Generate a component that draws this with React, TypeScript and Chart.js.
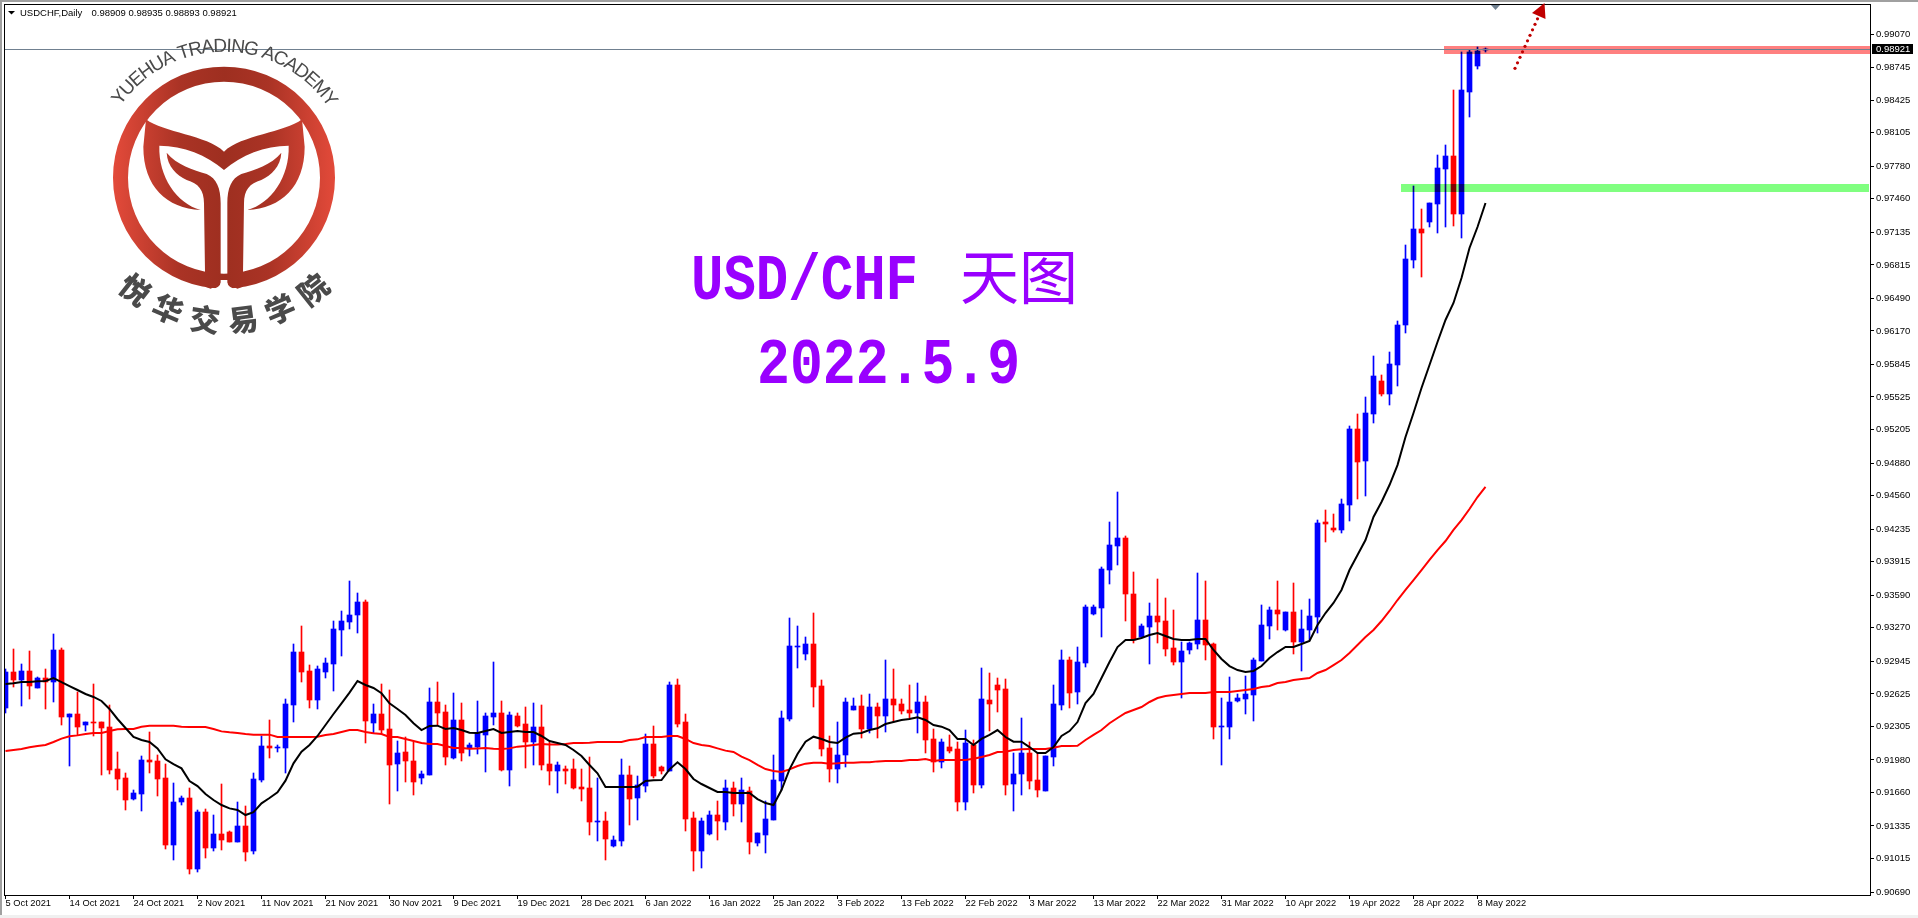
import React, { useEffect, useRef } from "react";
import { Chart, registerables } from "chart.js";

Chart.register(...registerables);

// All prices are in points: 1 point = 0.00001 USD/CHF
const symbolLabel = "USDCHF,Daily";
const ohlcLabel = "0.98909 0.98935 0.98893 0.98921";
const dateLabels = [
  "5 Oct 2021", "14 Oct 2021", "24 Oct 2021", "2 Nov 2021", "11 Nov 2021", "21 Nov 2021", "30 Nov 2021", "9 Dec 2021",
  "19 Dec 2021", "28 Dec 2021", "6 Jan 2022", "16 Jan 2022", "25 Jan 2022", "3 Feb 2022", "13 Feb 2022", "22 Feb 2022",
  "3 Mar 2022", "13 Mar 2022", "22 Mar 2022", "31 Mar 2022", "10 Apr 2022", "19 Apr 2022", "28 Apr 2022", "8 May 2022",
];
const priceTicks = [
  99070, 98745, 98425, 98105, 97780, 97460, 97135, 96815, 96490, 96170, 95845, 95525, 95205, 94880,
  94560, 94235, 93915, 93590, 93270, 92945, 92625, 92305, 91980, 91660, 91335, 91015, 90690,
];

const highs = [
  92865,93064,92917,93044,92790,92868,93210,93073,92429,92644,
  92351,92722,92351,92517,92058,91852,91686,92018,92253,92028,
  91940,91755,91628,91706,91491,91501,91442,91745,91286,91569,
  91530,91852,92214,92370,92126,92575,93112,93288,92907,92898,
  92976,93337,93435,93728,93611,93542,92526,92722,92663,92165,
  92204,92155,91872,92683,92741,92517,92634,92536,92145,92556,
  92439,92937,92556,92448,92439,92497,92536,92517,92155,91960,
  91921,91989,91891,92009,91804,91471,91237,91989,91921,91823,
  92233,92312,91921,92741,92771,92429,91471,91413,91481,91579,
  91784,91765,91804,91716,91266,91579,92028,92458,93366,93288,
  93181,93415,92761,92214,92351,92585,92585,92614,92624,92536,
  92956,92868,92575,92712,92732,92605,92282,92185,92224,92155,
  92272,92175,92878,92829,92780,92771,92048,92390,92155,92048,
  92018,92712,93054,92986,93083,93493,93493,93865,94304,94597,
  94167,93815,93308,93513,93747,93561,93444,93132,93132,93806,
  93728,93122,92585,92790,92624,92800,92975,93493,93474,93728,
  93425,93708,93444,93552,94323,94421,94382,94528,95241,95359,
  95525,95925,95740,95964,96267,97009,97585,97361,97419,97888,
  97986,98523,98894,98914,98943,98935,
];
const lows = [
  92442,92696,92510,92575,92683,92478,92546,92321,91921,92224,
  92263,92214,91833,91843,91686,91491,91589,91481,91852,91628,
  91110,91003,91540,90866,90885,91022,91090,91100,91178,91178,
  90993,91061,91765,91999,92058,91852,92351,92741,92487,92478,
  92780,92653,92995,93259,93220,92145,92243,92233,91550,91677,
  91765,91638,91745,91833,92321,91931,91989,91970,92018,92038,
  91862,92321,91872,91725,92302,91901,91931,91882,91735,91657,
  91745,91696,91579,91247,91188,91003,91130,91139,91344,91393,
  91667,91804,91843,91872,92302,91286,90895,90924,91247,91198,
  91296,91432,91374,91061,91139,91071,91393,91686,92360,92878,
  92956,92497,92018,91765,91755,91911,92468,92194,92243,92194,
  92253,92351,92429,92380,92243,92048,91862,91901,92048,91481,
  91491,91657,91706,92263,92448,91638,91481,91638,91696,91618,
  91677,91921,92468,92487,92526,92888,93396,93181,93698,93884,
  93337,93122,93181,92917,93122,92995,92907,92585,93015,93063,
  92956,92184,91930,92184,92546,92429,92360,92946,93161,93249,
  93239,93015,92849,93151,93220,94108,94206,94196,94313,94528,
  94558,95271,95534,95447,95632,96150,96785,96697,97185,97126,
  97185,97195,97078,98259,98728,98893,
];
const opens = [
  92491,92839,92761,92849,92683,92780,92741,93054,92399,92429,
  92321,92351,92351,92302,91891,91804,91598,91647,91979,91970,
  91804,91149,91569,91608,90915,91471,91120,91257,91276,91178,
  91335,91090,91784,92116,92097,92097,92517,93034,92849,92565,
  92839,92917,93249,93327,93396,93523,92341,92429,92282,91940,
  92058,91970,91804,91833,92546,92448,91999,92370,92097,92106,
  92224,92399,92439,91882,92409,92331,92155,92302,91940,91872,
  91891,91891,91716,91706,91374,91384,91139,91188,91833,91608,
  91725,92136,91911,91872,92712,92351,91413,91090,91257,91442,
  91374,91706,91550,91677,91169,91247,91393,91774,92380,93083,
  93015,93112,92702,92097,91891,92028,92468,92507,92282,92497,
  92409,92575,92526,92468,92439,92546,92185,91960,92106,92087,
  91569,92126,91735,92565,92712,92673,91745,91843,92048,91784,
  91677,92009,92517,92956,92644,92927,93406,93464,93835,94069,
  94148,93601,93181,93278,93386,93337,93073,92936,93054,93112,
  93347,93112,92302,92302,92555,92575,92614,92946,93288,93444,
  93249,93425,93132,93249,93376,94304,94245,94226,94470,95212,
  94900,95359,95681,95554,95837,96228,96863,97165,97234,97410,
  97752,97879,97312,98504,98758,98909,
];
const closes = [
  92839,92761,92849,92702,92780,92741,93054,92399,92429,92302,
  92351,92341,92292,91882,91794,91589,91657,91979,91960,91794,
  91149,91569,91608,90915,91471,91120,91257,91198,91178,91335,
  91081,91794,92116,92097,92106,92526,93034,92839,92565,92868,
  92927,93259,93337,93396,93523,92360,92429,92272,91931,92048,
  91970,91765,91843,92546,92439,92009,92370,92048,92126,92243,
  92409,92439,91882,92419,92312,92155,92302,91931,91872,91931,
  91872,91706,91696,91374,91384,91208,91198,91833,91598,91735,
  92136,91823,91872,92712,92331,91403,91090,91384,91442,91384,
  91706,91550,91686,91178,91266,91403,91784,92390,93093,93093,
  93112,92692,92087,91891,92028,92546,92507,92282,92497,92409,
  92575,92517,92458,92439,92546,92175,91960,92155,92067,91569,
  92145,91735,92575,92526,92663,91735,91843,92048,91774,91686,
  92018,92526,92956,92634,92937,93474,93474,93845,94079,94148,
  93601,93151,93288,93386,93327,93063,92936,93044,93122,93347,
  93102,92302,92311,92546,92585,92624,92956,93298,93444,93405,
  93425,93132,93259,93386,94294,94284,94226,94480,95212,94890,
  95368,95730,95554,95847,96228,96872,97165,97126,97419,97761,
  97879,97312,98523,98894,98904,98921,
];
const fastAverage = [
  92722,92728,92741,92741,92748,92751,92780,92741,92702,92663,
  92624,92595,92556,92478,92380,92292,92204,92175,92155,92093,
  91986,91940,91898,91774,91725,91647,91589,91540,91507,91491,
  91442,91471,91556,91608,91664,91778,91947,92061,92126,92214,
  92321,92429,92533,92637,92751,92712,92683,92631,92533,92478,
  92419,92338,92272,92312,92315,92282,92292,92272,92246,92243,
  92263,92282,92243,92253,92263,92253,92253,92214,92165,92145,
  92126,92077,92018,91931,91849,91716,91716,91716,91716,91719,
  91774,91781,91784,91888,91957,91891,91794,91745,91706,91667,
  91667,91657,91657,91657,91598,91559,91540,91686,91888,92038,
  92158,92207,92185,92155,92145,92198,92237,92243,92272,92289,
  92331,92351,92370,92380,92396,92370,92321,92305,92272,92185,
  92185,92126,92185,92224,92272,92204,92158,92158,92106,92048,
  92048,92106,92214,92262,92350,92536,92624,92780,92936,93083,
  93151,93151,93171,93200,93220,93190,93161,93151,93151,93161,
  93161,93054,92966,92897,92858,92839,92849,92897,92975,93034,
  93083,93083,93112,93142,93298,93415,93513,93640,93835,93981,
  94128,94353,94499,94665,94860,95134,95368,95613,95837,96062,
  96277,96443,96687,96980,97185,97419,
];
const slowAverage = [
  92067,92077,92087,92103,92116,92126,92155,92188,92211,92220,
  92233,92243,92243,92263,92279,92282,92282,92305,92315,92315,
  92315,92315,92305,92302,92302,92302,92282,92259,92250,92243,
  92233,92227,92227,92227,92204,92204,92204,92204,92204,92207,
  92224,92233,92253,92272,92272,92253,92240,92233,92204,92204,
  92185,92165,92145,92136,92136,92116,92097,92097,92090,92093,
  92097,92090,92087,92093,92110,92116,92126,92136,92132,92132,
  92136,92145,92145,92149,92155,92155,92155,92155,92175,92181,
  92204,92204,92204,92214,92214,92185,92145,92126,92116,92093,
  92071,92058,92012,91979,91931,91891,91872,91862,91888,91921,
  91944,91953,91953,91944,91947,91953,91953,91957,91957,91966,
  91970,91970,91970,91979,91979,91989,91970,91979,91979,91979,
  91979,91992,92009,92028,92058,92061,92077,92084,92087,92087,
  92087,92100,92116,92116,92119,92175,92224,92272,92338,92390,
  92439,92468,92497,92546,92585,92605,92614,92624,92634,92634,
  92634,92643,92643,92643,92653,92663,92673,92692,92702,92731,
  92741,92761,92770,92780,92829,92858,92907,92956,93024,93102,
  93181,93249,93337,93435,93542,93640,93737,93835,93933,94030,
  94118,94226,94323,94431,94548,94646,
];
// Drawn zones: [top price, bottom price, first bar]
const resistanceZone = [98953, 98875, 179.8];
const supportZone = [97605, 97527, 174.44];

const UP = "#0000FF";
const DOWN = "#FF0000";
const count = closes.length;
const candleColors = closes.map((c, i) => (c >= opens[i] ? UP : DOWN));

function drawLogo(ctx: CanvasRenderingContext2D) {
  const X = (z: number) => 80 + z / 3;
  const Y = (z: number) => z / 3;
  const cx = X(432);
  const cy = Y(533);
  const grad = ctx.createLinearGradient(X(100), 0, X(766), 0);
  grad.addColorStop(0, "#E34A3A");
  grad.addColorStop(0.3, "#AA3325");
  grad.addColorStop(0.5, "#9E2F20");
  grad.addColorStop(0.7, "#AA3325");
  grad.addColorStop(1, "#E34A3A");
  ctx.save();
  ctx.fillStyle = grad;
  ctx.beginPath();
  ctx.arc(cx, cy, 111, 0, Math.PI * 2);
  ctx.arc(cx, cy, 96, 0, Math.PI * 2);
  ctx.fill("evenodd");

  const half = (m: boolean) => {
    const PX = (z: number) => X(m ? 864 - z : z);
    ctx.beginPath();
    ctx.moveTo(PX(198), Y(358));
    ctx.bezierCurveTo(PX(250), Y(398), PX(380), Y(405), PX(432), Y(455));
    ctx.lineTo(PX(432), Y(510));
    ctx.bezierCurveTo(PX(380), Y(465), PX(310), Y(437), PX(238), Y(437));
    ctx.bezierCurveTo(PX(235), Y(530), PX(290), Y(610), PX(362), Y(630));
    ctx.bezierCurveTo(PX(260), Y(625), PX(190), Y(560), PX(190), Y(440));
    ctx.closePath();
    ctx.fill();
    ctx.beginPath();
    ctx.moveTo(PX(260), Y(458));
    ctx.bezierCurveTo(PX(290), Y(495), PX(340), Y(510), PX(380), Y(522));
    ctx.bezierCurveTo(PX(410), Y(535), PX(422), Y(565), PX(422), Y(610));
    ctx.lineTo(PX(422), Y(850));
    ctx.lineTo(PX(392), Y(866));
    ctx.lineTo(PX(375), Y(860));
    ctx.lineTo(PX(375), Y(815));
    ctx.lineTo(PX(372), Y(610));
    ctx.bezierCurveTo(PX(372), Y(570), PX(355), Y(550), PX(320), Y(540));
    ctx.bezierCurveTo(PX(290), Y(525), PX(262), Y(500), PX(260), Y(458));
    ctx.closePath();
    ctx.fill();
    ctx.fillStyle = "#FFFFFF";
    ctx.beginPath();
    ctx.moveTo(PX(422), Y(848));
    ctx.quadraticCurveTo(PX(420), Y(862), PX(395), Y(868));
    ctx.lineTo(PX(432), Y(880));
    ctx.lineTo(PX(432), Y(848));
    ctx.closePath();
    ctx.fill();
    ctx.fillStyle = grad;
  };
  half(false);
  half(true);
  ctx.fillStyle = "#FFFFFF";
  ctx.fillRect(X(422), Y(840), (442 - 422) / 3, 12);
  ctx.fillStyle = "#4A4A4A";

  // Arc text along the top of the ring
  const arcText = "YUEHUA TRADING ACADEMY";
  ctx.font = '19px "Liberation Sans"';
  ctx.textAlign = "left";
  ctx.textBaseline = "alphabetic";
  const r = 126;
  const total = ctx.measureText(arcText).width;
  const startA = (-55 * Math.PI) / 180;
  const sweep = (111 * Math.PI) / 180;
  const k = sweep / total;
  let run = 0;
  for (const ch of arcText) {
    const w = ctx.measureText(ch).width;
    const a = startA + (run + w / 2) * k;
    ctx.save();
    ctx.translate(cx + r * Math.sin(a), cy - r * Math.cos(a));
    ctx.rotate(a);
    ctx.fillText(ch, -w / 2, 0);
    ctx.restore();
    run += w;
  }

  // Chinese name along the bottom of the ring
  const cnText = "悦华交易学院";
  ctx.font = '900 30px "Noto Sans CJK SC"';
  ctx.textAlign = "center";
  ctx.textBaseline = "middle";
  [...cnText].forEach((ch, i) => {
    const deg = -38.5 + 15.4 * i;
    const a = (deg * Math.PI) / 180;
    ctx.save();
    ctx.translate(cx + 143 * Math.sin(a), cy + 143 * Math.cos(a));
    ctx.rotate(-a);
    ctx.fillText(ch, 0, 0);
    ctx.restore();
  });
  ctx.restore();
}

const decor = {
  id: "decor",
  beforeDatasetsDraw(chart: any) {
    chart.data.datasets.forEach((ds: any, idx: number) => {
      if (ds.type === "line") return;
      chart.getDatasetMeta(idx).data.forEach((el: any) => {
        el.x = Math.floor(el.x) + 0.5;
        el.y = Math.round(el.y);
        el.base = Math.round(el.base);
        if (el.y === el.base) el.base = el.y + 1;
      });
    });
  },
  afterDatasetsDraw(chart: any) {
    const { ctx, scales } = chart;
    const xs = scales.x;
    const ys = scales.y;
    const area = chart.chartArea;
    ctx.save();

    // translucent zones that tint what lies under them
    ctx.globalCompositeOperation = "multiply";
    const zone = (z: number[], color: string, right: number) => {
      const t = Math.round(ys.getPixelForValue(z[0]));
      const b = Math.round(ys.getPixelForValue(z[1]));
      const l = Math.round(xs.getPixelForValue(z[2]));
      ctx.fillStyle = color;
      ctx.fillRect(l, t, right - l, b - t);
    };
    zone(resistanceZone, "#FF8080", area.right);
    zone(supportZone, "#80FF80", area.right - 1);
    ctx.globalCompositeOperation = "source-over";

    // current price line
    const last = closes[count - 1];
    const py = Math.round(ys.getPixelForValue(last));
    ctx.fillStyle = "#708090";
    ctx.fillRect(area.left, py, area.right - area.left, 1);

    // frame and window edges
    ctx.fillStyle = "#000000";
    ctx.fillRect(area.left, area.top, area.right - area.left + 1, 1);
    ctx.fillRect(area.left, area.top, 1, area.bottom - area.top + 1);
    ctx.fillRect(area.right, area.top, 1, area.bottom - area.top + 1);
    ctx.fillRect(area.left, area.bottom, area.right - area.left + 1, 1);
    ctx.fillStyle = "#A0A0A0";
    ctx.fillRect(0, 0, 1918, 2);
    ctx.fillRect(0, 0, 2, 918);
    ctx.fillStyle = "#F0F0F0";
    ctx.fillRect(0, 915, 1918, 3);

    // current price tag
    ctx.fillStyle = "#000000";
    ctx.fillRect(area.right + 2, py - 5, 41, 10);
    ctx.fillStyle = "#FFFFFF";
    ctx.font = '9.5px "Liberation Sans"';
    ctx.textAlign = "left";
    ctx.textBaseline = "middle";
    ctx.fillText((last / 100000).toFixed(5), area.right + 6, py + 0.5);

    // header
    ctx.fillStyle = "#000000";
    ctx.beginPath();
    ctx.moveTo(8, 11);
    ctx.lineTo(15, 11);
    ctx.lineTo(11.5, 14.5);
    ctx.closePath();
    ctx.fill();
    ctx.textBaseline = "alphabetic";
    ctx.fillText(symbolLabel, 20, 16);
    ctx.fillText(ohlcLabel, 91.5, 16);

    // small marker at the top edge
    ctx.fillStyle = "#708090";
    ctx.beginPath();
    ctx.moveTo(1491, 5);
    ctx.lineTo(1500, 5);
    ctx.lineTo(1495.5, 10);
    ctx.closePath();
    ctx.fill();

    // dotted arrow
    ctx.fillStyle = "#C00000";
    for (let i = 0; i < 10; i++) {
      ctx.beginPath();
      ctx.arc(1515 + 2.5 * i, 68.3 - 5.5 * i, 1.6, 0, Math.PI * 2);
      ctx.fill();
    }
    ctx.beginPath();
    ctx.moveTo(1544.5, 3);
    ctx.lineTo(1532, 13);
    ctx.lineTo(1545.5, 19);
    ctx.closePath();
    ctx.fill();

    drawLogo(ctx);

    // title
    ctx.fillStyle = "#9900FF";
    ctx.textAlign = "left";
    ctx.textBaseline = "alphabetic";
    ctx.font = 'bold 65px "Liberation Mono"';
    ctx.fillText("USD/CHF", 691, 299, 227);
    ctx.fillText("2022.5.9", 757, 383, 263);
    ctx.font = '59px "Noto Sans CJK SC"';
    ctx.fillText("天图", 960, 299);
    ctx.restore();
  },
};

export default function App() {
  const ref = useRef<HTMLCanvasElement>(null);
  useEffect(() => {
    if (!ref.current) return;
    const chart = new Chart(ref.current, {
      type: "bar",
      data: {
        datasets: [
          {
            type: "line",
            data: fastAverage.map((v, i) => ({ x: i, y: v })),
            borderColor: "#000000",
            borderWidth: 2,
            pointRadius: 0,
            tension: 0,
            order: 1,
          },
          {
            type: "line",
            data: slowAverage.map((v, i) => ({ x: i, y: v })),
            borderColor: "#FF0000",
            borderWidth: 2,
            pointRadius: 0,
            tension: 0,
            order: 2,
          },
          {
            type: "bar",
            data: opens.map((o, i) => ({ x: i, y: [o, closes[i]] })),
            backgroundColor: candleColors,
            borderWidth: 0,
            barThickness: 5,
            minBarLength: 1,
            grouped: false,
            order: 3,
          },
          {
            type: "bar",
            data: highs.map((h, i) => ({ x: i, y: [lows[i], h] })),
            backgroundColor: candleColors,
            borderWidth: 0,
            barThickness: 1,
            grouped: false,
            order: 4,
          },
        ] as any,
      },
      plugins: [decor as any],
      options: {
        animation: false,
        responsive: false,
        devicePixelRatio: 1,
        events: [],
        layout: { padding: { left: 4, top: 4, right: 0, bottom: 0 } },
        plugins: { legend: { display: false }, tooltip: { enabled: false }, title: { display: false } },
        scales: {
          x: {
            type: "linear",
            offset: false,
            min: -0.1875,
            max: 233.0625,
            grid: { display: true, offset: false, drawOnChartArea: false, drawTicks: true, tickLength: 4, color: "#000000" },
            border: { display: false },
            afterBuildTicks: (s: any) => {
              s.ticks = dateLabels.map((_, i) => ({ value: i * 8 }));
            },
            afterFit: (s: any) => {
              s.height = 23;
              s.paddingLeft = 0;
              s.paddingRight = 0;
            },
            ticks: {
              autoSkip: false,
              maxRotation: 0,
              minRotation: 0,
              align: "start",
              padding: -1,
              color: "#000000",
              font: { family: "Liberation Sans", size: 9.3 },
              callback: (v: any) => dateLabels[Math.round(Number(v) / 8)],
            },
          },
          y: {
            type: "linear",
            position: "right",
            min: 90661,
            max: 99363,
            grid: { display: true, drawOnChartArea: false, drawTicks: true, tickLength: 4, color: "#000000" },
            border: { display: false },
            afterBuildTicks: (s: any) => {
              s.ticks = priceTicks.map((v) => ({ value: v }));
            },
            afterFit: (s: any) => {
              s.width = 48;
              s.paddingTop = 0;
              s.paddingBottom = 0;
            },
            ticks: {
              autoSkip: false,
              padding: 2,
              color: "#000000",
              font: { family: "Liberation Sans", size: 9.5 },
              callback: (v: any) => (Number(v) / 100000).toFixed(5),
            },
          },
        },
      } as any,
    });
    return () => chart.destroy();
  }, []);
  return (
    <div style={{ position: "fixed", left: 0, top: 0, width: 1918, height: 918, background: "#FFFFFF" }}>
      <canvas ref={ref} width={1918} height={918} style={{ display: "block" }} />
    </div>
  );
}
